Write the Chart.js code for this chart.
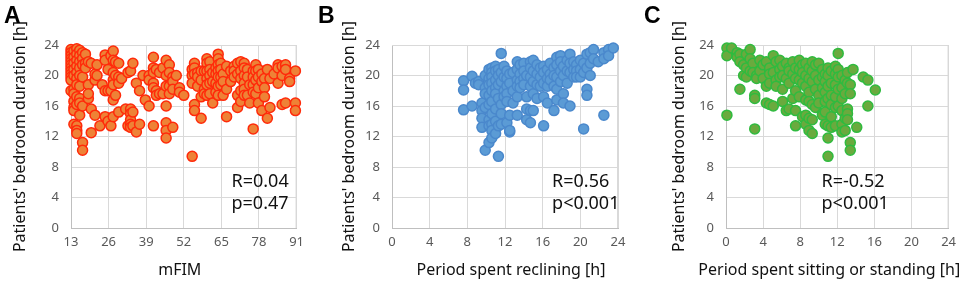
<!DOCTYPE html>
<html>
<head>
<meta charset="utf-8">
<script src="https://cdn.jsdelivr.net/npm/chart.js@4"></script>
<style>
  html, body { margin: 0; padding: 0; background: #fff; }
  #wrap { position: relative; width: 962px; height: 282px; overflow: hidden; }
  canvas { position: absolute; top: 0; }
  .letter { position: absolute; top: 2px; font: bold 23px "Liberation Sans", Arial, sans-serif; color: #000; }
</style>
</head>
<body>
<div id="wrap">
  <canvas id="chartA" width="310" height="282" style="left:0px"></canvas>
  <canvas id="chartB" width="320" height="282" style="left:320px"></canvas>
  <canvas id="chartC" width="322" height="282" style="left:640px"></canvas>
  <div class="letter" style="left:4px">A</div>
  <div class="letter" style="left:318px">B</div>
  <div class="letter" style="left:644px">C</div>
</div>
<script>
// each entry: [x value, [bedroom duration values at that x]]
const mfimCols = [
  [13, [23.4, 23.0, 22.6, 22.2, 21.8, 21.4, 21.0, 20.6, 20.2, 19.8, 19.4, 18.0]],
  [14, [23.2, 22.4, 21.6, 20.8, 20.0, 18.2, 17.6, 16.6, 15.8, 15.4, 13.6]],
  [15, [23.5, 22.8, 22.0, 21.2, 20.4, 19.6, 18.8, 17.2, 16.2, 13.4, 12.8, 12.4]],
  [16, [23.3, 22.6, 21.8, 21.0, 20.0, 18.6, 17.0, 16.4, 14.8]],
  [17, [23.0, 22.2, 21.4, 19.8, 16.0, 11.2, 10.2]],
  [18, [22.8, 21.6, 21.0]],
  [19, [21.8, 18.8, 17.0, 17.6]],
  [20, [21.6, 15.6, 12.5]],
  [21.3, [19.4, 20.2, 14.8]],
  [22, [21.4, 20.0]],
  [23, [13.4]],
  [23.8, [18.8]],
  [24.8, [22.7, 22.0, 18.0, 14.6]],
  [25.8, [20.8, 18.0, 14.0]],
  [26.8, [22.6, 18.0, 13.4]],
  [27.6, [23.2, 22.0, 20.4, 19.4, 18.8, 16.8, 14.6]],
  [28.4, [21.8, 20.0, 17.4]],
  [29.5, [21.6, 19.8, 19.0, 15.2]],
  [30.5, [19.6]],
  [31.9, [15.6]],
  [32.7, [20.4, 13.4]],
  [33.6, [20.6, 15.6, 15.0, 14.2, 13.6, 13.2]],
  [34.4, [21.6, 15.2, 13.4]],
  [35.6, [19.0, 12.6]],
  [36.7, [18.0, 13.6]],
  [37.9, [20.0]],
  [38.7, [16.8]],
  [40, [20.0, 19.4, 16.0]],
  [41.5, [22.4, 21.0, 20.4, 19.0, 18.4, 13.4]],
  [42.5, [20.8, 18.0, 17.4]],
  [43.6, [20.4, 17.6]],
  [44.8, [21.0, 17.6]],
  [45.9, [22.0, 20.0, 18.6, 16.0, 13.8, 12.8, 11.8]],
  [47, [21.4, 20.4, 18.6, 17.6]],
  [48.2, [19.8, 19.2, 18.2, 13.2]],
  [49.4, [20.0]],
  [50.5, [18.4, 17.8]],
  [52, [17.4]],
  [54.9, [20.8, 20.0, 19.0, 9.4]],
  [55.7, [21.6, 21.0, 20.2, 16.2, 15.4]],
  [56.8, [20.4, 19.8, 18.6]],
  [58, [20.6, 19.4, 17.2, 14.4]],
  [59.1, [20.6, 18.2, 17.6]],
  [60, [22.2, 21.6, 20.6, 19.6, 18.8, 17.4]],
  [61, [21.8, 20.8, 20.0, 19.0, 17.6]],
  [62, [20.4, 19.2, 16.4]],
  [63.1, [21.0, 20.2, 19.0, 17.8]],
  [63.9, [22.8, 22.2, 21.4, 20.6, 19.8, 18.6, 17.4]],
  [64.8, [21.6, 20.8, 19.8, 18.8]],
  [65.6, [20.2, 19.2, 17.4]],
  [66.8, [21.2, 18.2, 14.6]],
  [68.2, [20.6, 19.2]],
  [69.4, [21.2, 20.6, 19.8]],
  [70.6, [21.6, 20.2, 17.4, 15.8]],
  [71.7, [21.8, 20.6, 19.6, 18.0, 16.6]],
  [72.9, [21.6, 21.0, 20.0, 19.0, 18.2, 17.4]],
  [74, [20.8, 19.8, 17.4]],
  [74.8, [18.8, 16.4]],
  [76, [20.6, 19.8, 18.8, 17.8, 13.0]],
  [76.9, [21.4, 20.6, 19.4, 17.6]],
  [77.8, [20.8, 19.8, 18.4, 16.4]],
  [79, [20.2, 19.2, 15.4]],
  [79.9, [19.6, 18.4, 17.2]],
  [80.9, [20.8, 14.4]],
  [81.8, [19.6, 15.8]],
  [83.2, [20.2]],
  [84.6, [21.4, 21.0, 19.0]],
  [86, [21.2, 20.0, 16.2]],
  [87.2, [21.4, 20.8, 16.4]],
  [88.6, [19.6, 19.2]],
  [90.6, [20.6, 16.4, 15.4]]
];

const recliningCols = [
  [7.6, [19.3, 18.1, 15.5]],
  [8.5, [19.9, 16.0]],
  [8.85, [19.0]],
  [9.2, [19.2, 18.8]],
  [9.55, [16.4, 15.4, 14.4, 13.2]],
  [9.9, [20.0, 18.4, 17.6, 15.8, 10.2]],
  [10.3, [20.8, 19.6, 18.8, 17.4, 16.2, 14.2, 13.4, 11.2]],
  [10.6, [21.0, 20.4, 19.8, 19.0, 18.0, 16.6, 15.0, 13.6, 12.8, 11.8]],
  [11.0, [21.2, 20.6, 19.4, 18.4, 17.6, 15.6, 14.0, 12.4]],
  [11.3, [20.8, 20.0, 18.8, 17.0, 13.4, 9.4]],
  [11.6, [22.9, 20.4, 19.2, 16.2, 15.0, 13.6]],
  [11.9, [21.2, 19.8, 18.0, 17.2]],
  [12.2, [20.6, 19.6, 18.6, 17.6, 16.6, 13.8]],
  [12.5, [20.2, 19.0, 14.8, 12.6, 12.8]],
  [12.85, [20.4, 18.0, 16.4]],
  [13.3, [21.8, 20.8, 19.4, 18.6, 17.2, 14.8]],
  [13.6, [21.4, 20.2, 19.2, 18.4]],
  [14.0, [21.6, 20.6, 19.6, 18.8]],
  [14.3, [20.0, 17.2, 15.6, 14.2]],
  [14.7, [21.8, 21.0, 19.8, 18.6, 15.4, 13.8]],
  [15.0, [22.0, 20.6, 19.2, 17.6, 15.4]],
  [15.4, [21.4, 20.2, 18.8, 17.0]],
  [15.75, [21.0, 19.8, 18.6]],
  [16.1, [21.2, 20.4, 19.0, 17.2, 13.4]],
  [16.5, [20.8, 19.6, 18.6, 16.4]],
  [16.8, [21.6, 20.2, 19.4]],
  [17.2, [21.0, 20.0, 18.6, 15.4]],
  [17.5, [22.4, 21.4, 19.8, 18.2, 16.8]],
  [17.9, [22.6, 21.8, 20.6, 19.2]],
  [18.2, [21.2, 20.0, 17.6, 16.4]],
  [18.6, [22.0, 20.6, 19.0]],
  [18.9, [22.8, 21.6, 20.4, 16.0]],
  [19.3, [21.8, 20.8, 19.8]],
  [19.6, [21.4, 20.6, 19.8]],
  [20.0, [22.0, 20.8, 19.8]],
  [20.35, [21.6, 20.4, 13.0]],
  [20.7, [22.8, 21.0, 18.2, 17.4]],
  [21.05, [23.0, 21.6, 20.0]],
  [21.4, [23.4, 22.2]],
  [21.9, [21.8]],
  [22.5, [23.0, 22.2, 14.8]],
  [23.0, [23.4, 22.6]],
  [23.5, [23.6]]
];

const sittingCols = [
  [0.1, [23.6, 22.6, 14.8]],
  [0.6, [23.6]],
  [1.2, [23.0, 22.4]],
  [1.5, [22.8, 21.8, 18.2]],
  [1.9, [21.4, 20.0]],
  [2.2, [22.8, 21.0, 19.8]],
  [2.6, [23.4, 22.2, 20.6]],
  [2.9, [21.6, 20.4]],
  [3.1, [17.4, 17.0, 13.0]],
  [3.3, [20.0, 19.6]],
  [3.65, [22.0, 20.6]],
  [4.0, [21.4, 19.6]],
  [4.35, [21.8, 18.6, 16.4]],
  [4.7, [21.0, 20.2, 19.0, 16.2]],
  [5.1, [22.6, 20.4, 16.0]],
  [5.4, [21.8, 19.4, 18.6]],
  [5.8, [22.0, 20.8, 19.8]],
  [6.1, [21.2, 20.0, 18.2, 16.6]],
  [6.5, [21.6, 19.6, 15.4]],
  [6.8, [21.0, 20.6, 19.0, 15.6]],
  [7.2, [21.8, 20.2, 17.0]],
  [7.5, [21.0, 19.6, 18.0, 15.4, 13.4]],
  [7.9, [22.0, 20.8, 19.4, 17.2]],
  [8.25, [21.4, 20.4, 19.0, 14.6]],
  [8.6, [21.6, 20.0, 18.6, 16.8, 14.8, 13.6]],
  [8.95, [21.0, 19.6, 17.8, 16.6, 14.4, 12.8]],
  [9.3, [21.8, 20.6, 19.2, 16.2, 14.2, 12.4]],
  [9.65, [21.4, 20.0, 18.2, 15.8]],
  [10.0, [21.6, 19.4, 17.4, 16.4]],
  [10.4, [20.8, 19.8, 18.4, 15.0, 14.8]],
  [10.7, [20.2, 19.2, 17.8, 16.6, 15.2, 13.6]],
  [11.0, [21.0, 20.0, 18.6, 17.0, 13.4, 11.8, 9.4]],
  [11.35, [20.6, 19.0, 17.4, 16.2, 14.6, 13.2]],
  [11.8, [21.2, 20.2, 18.8, 17.2, 15.8, 13.4]],
  [12.1, [22.9, 20.8, 19.8, 18.2, 16.0]],
  [12.5, [20.0, 18.4, 17.0, 15.4, 13.6, 12.6]],
  [12.85, [19.4, 17.6, 14.4, 12.8]],
  [13.1, [20.4, 19.0, 15.6, 15.0, 14.2]],
  [13.4, [18.8, 17.6, 11.2, 10.2]],
  [13.7, [20.8]],
  [14.1, [13.2]],
  [14.8, [19.8]],
  [15.3, [19.4, 16.0]],
  [16.1, [18.1]]
];

const yTicks = [0, 4, 8, 12, 16, 20, 24];
const mfimTicks = [13, 26, 39, 52, 65, 78, 91];
const hourTicks = [0, 4, 8, 12, 16, 20, 24];

const toPoints = cols => cols.flatMap(([x, ys]) => ys.map(y => ({ x: x, y: y })));

const stats = {
  A: ['R=0.04', 'p=0.47'],
  B: ['R=0.56', 'p<0.001'],
  C: ['R=-0.52', 'p<0.001']
};

const FONT = '"Noto Sans", sans-serif';

// R / p labels and the x axis title (drawn by hand so a long title is not squeezed)
const textPlugin = {
  id: 'texts',
  afterDatasetsDraw(chart, args, opts) {
    const ctx = chart.ctx;
    const a = chart.chartArea;
    const x = chart.scales.x.getPixelForValue(opts.x);
    ctx.save();
    ctx.fillStyle = '#111';
    ctx.font = '18px ' + FONT;
    ctx.textAlign = 'left';
    ctx.textBaseline = 'middle';
    ctx.fillText(opts.lines[0], x, chart.scales.y.getPixelForValue(6.0));
    ctx.fillText(opts.lines[1], x, chart.scales.y.getPixelForValue(3.2));
    ctx.font = '16px ' + FONT;
    ctx.textAlign = 'center';
    ctx.fillText(opts.xTitle, (a.left + a.right) / 2 + opts.titleShift, 270);
    ctx.restore();
  }
};

const framePlugin = {
  id: 'frame',
  beforeDatasetsDraw(chart) {
    const a = chart.chartArea, ctx = chart.ctx;
    ctx.save();
    ctx.strokeStyle = '#d9d9d9';
    ctx.lineWidth = 1;
    ctx.beginPath();
    ctx.moveTo(a.left, a.top + 0.5);
    ctx.lineTo(a.right, a.top + 0.5);
    ctx.moveTo(a.right - 0.5, a.top);
    ctx.lineTo(a.right - 0.5, a.bottom);
    ctx.stroke();
    ctx.restore();
  }
};

function makeChart(id, cols, xTicks, xTitle, titleShift, fill, border, yWidth, titlePad, rightPad, statX, lines) {
  new Chart(document.getElementById(id), {
    type: 'scatter',
    data: {
      datasets: [{
        data: toPoints(cols),
        backgroundColor: fill,
        borderColor: border,
        borderWidth: 1.5,
        pointRadius: 5,
        pointHoverRadius: 5,
        clip: false
      }]
    },
    options: {
      responsive: false,
      animation: false,
      layout: { padding: { top: 45, right: rightPad, bottom: 0, left: 0 } },
      plugins: {
        legend: { display: false },
        tooltip: { enabled: false },
        texts: { x: statX, lines: lines, xTitle: xTitle, titleShift: titleShift }
      },
      scales: {
        x: {
          type: 'linear',
          min: xTicks[0],
          max: xTicks[xTicks.length - 1],
          afterBuildTicks: s => { s.ticks = xTicks.map(v => ({ value: v })); },
          afterFit: s => { s.height = 54; },
          grid: { color: '#d9d9d9', drawTicks: false },
          border: { color: '#bfbfbf' },
          ticks: { color: '#595959', font: { size: 13, family: FONT }, padding: 6 },
          title: { display: false }
        },
        y: {
          min: 0,
          max: 24,
          afterBuildTicks: s => { s.ticks = yTicks.map(v => ({ value: v })); },
          afterFit: s => { s.width = yWidth; },
          grid: { color: '#d9d9d9', drawTicks: false },
          border: { color: '#bfbfbf' },
          ticks: { color: '#595959', font: { size: 13, family: FONT }, padding: 12 },
          title: { display: true, text: "Patients' bedroom duration [h]", color: '#111',
                   font: { size: 16, family: FONT }, padding: { top: titlePad, bottom: 0 } }
        }
      }
    },
    plugins: [textPlugin, framePlugin]
  });
}

makeChart('chartA', mfimCols, mfimTicks, 'mFIM', -4, '#ee8236', '#ff2a0a', 71, 11, 12, 68.5, stats.A);
makeChart('chartB', recliningCols, hourTicks, 'Period spent reclining [h]', 6, '#5b9bd5', '#4a88cc', 72, 20, 22, 17.0, stats.B);
makeChart('chartC', sittingCols, hourTicks, 'Period spent sitting or standing [h]', -8, '#6aaa3e', '#2fbb3f', 86, 30, 10, 10.3, stats.C);
</script>
</body>
</html>
